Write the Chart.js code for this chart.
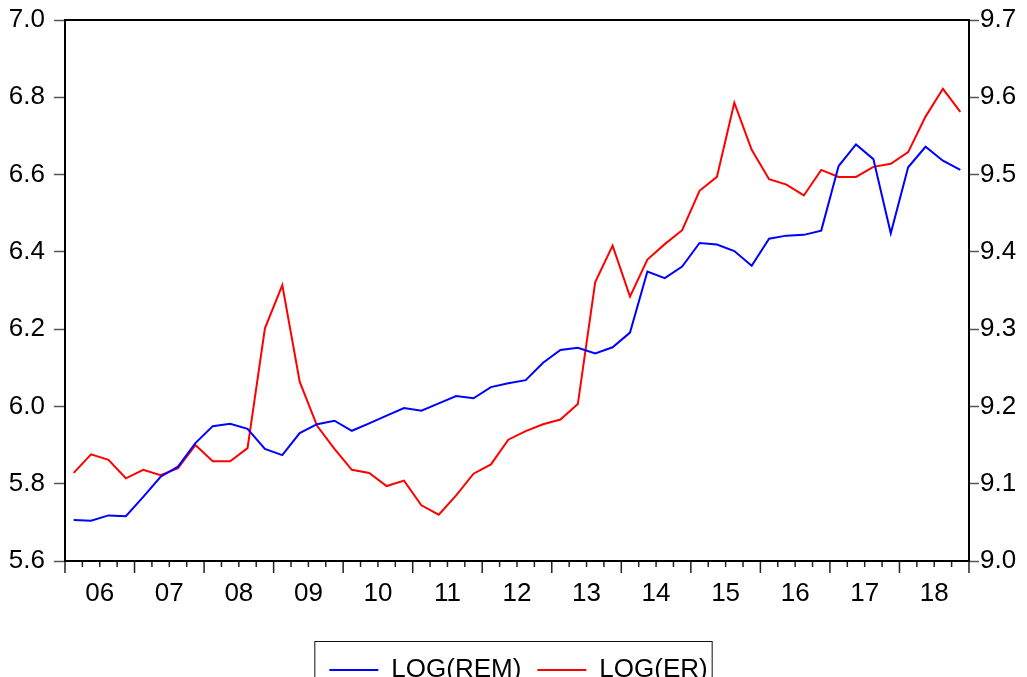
<!DOCTYPE html>
<html>
<head>
<meta charset="utf-8">
<title>LOG(REM) and LOG(ER)</title>
<script src="https://cdn.jsdelivr.net/npm/chart.js@4.4.1/dist/chart.umd.min.js"></script>
<style>
  html, body { margin: 0; padding: 0; background: #fff; }
  #wrap { width: 1027px; height: 677px; }
</style>
</head>
<body>
<div id="wrap"><canvas id="remErChart" width="1027" height="677"></canvas></div>
<script>
// quarterly sample 2006Q1 - 2018Q4
const years = ['06', '07', '08', '09', '10', '11', '12', '13', '14', '15', '16', '17', '18'];
const quarters = years.flatMap(y => ['Q1', 'Q2', 'Q3', 'Q4'].map(q => '20' + y + q));

// left axis
const logRem = [
  5.706, 5.704, 5.718, 5.716, 5.766, 5.818, 5.844, 5.905, 5.949, 5.955,
  5.942, 5.890, 5.874, 5.931, 5.954, 5.963, 5.937, 5.956, 5.976, 5.996,
  5.989, 6.008, 6.027, 6.021, 6.050, 6.060, 6.068, 6.113, 6.146, 6.152,
  6.137, 6.153, 6.191, 6.349, 6.332, 6.362, 6.423, 6.419, 6.402, 6.364,
  6.434, 6.442, 6.444, 6.455, 6.622, 6.678, 6.640, 6.448, 6.619, 6.672,
  6.636, 6.612
];

// right axis
const logEr = [
  9.114, 9.138, 9.131, 9.107, 9.118, 9.111, 9.120, 9.150, 9.129, 9.129,
  9.146, 9.301, 9.357, 9.232, 9.175, 9.145, 9.118, 9.114, 9.097, 9.104,
  9.072, 9.060, 9.085, 9.113, 9.125, 9.157, 9.168, 9.177, 9.183, 9.203,
  9.361, 9.408, 9.342, 9.390, 9.410, 9.428, 9.479, 9.497, 9.593, 9.532,
  9.494, 9.487, 9.473, 9.506, 9.497, 9.497, 9.510, 9.514, 9.529, 9.575,
  9.611, 9.581
];

Chart.defaults.font.family = '"Liberation Sans", Arial, Helvetica, sans-serif';
Chart.defaults.font.size = 26;
Chart.defaults.color = '#000';

// eviews-like frame, quarter ticks and boxed legend
const eviewsFrame = {
  id: 'eviewsFrame',
  afterLayout(chart) {
    // legend sits partly below the bottom edge in the original
    const lg = chart.legend;
    lg.top += 16;
    lg.bottom += 16;
    lg.left += 5;
    lg.right += 5;
  },
  afterDraw(chart) {
    const {ctx, chartArea: a, scales: {x}} = chart;
    ctx.save();

    const band = x.getPixelForValue(1) - x.getPixelForValue(0);
    ctx.strokeStyle = '#222';
    ctx.lineWidth = 1.5;
    ctx.beginPath();
    for (let k = 0; k <= quarters.length; k++) {
      const px = x.getPixelForValue(0) + (k - 0.5) * band;
      const len = k % 4 === 0 ? 12 : 6;
      ctx.moveTo(px, a.bottom);
      ctx.lineTo(px, a.bottom + len);
    }
    ctx.stroke();

    ctx.strokeStyle = '#000';
    ctx.lineWidth = 2;
    ctx.strokeRect(a.left, a.top, a.right - a.left, a.bottom - a.top);

    const lg = chart.legend;
    const boxes = lg.legendHitBoxes;
    if (boxes && boxes.length) {
      const first = boxes[0];
      const last = boxes[boxes.length - 1];
      ctx.lineWidth = 1;
      ctx.strokeStyle = '#111';
      ctx.strokeRect(first.left - 14.5, lg.top + 0.5, last.left + last.width - first.left + 19, 60);
    }
    ctx.restore();
  }
};

new Chart(document.getElementById('remErChart'), {
  type: 'line',
  data: {
    labels: quarters,
    datasets: [
      {
        label: 'LOG(REM)',
        data: logRem,
        yAxisID: 'y',
        borderColor: '#0000ff',
        backgroundColor: '#0000ff',
        borderWidth: 2,
        pointRadius: 0,
        tension: 0
      },
      {
        label: 'LOG(ER)',
        data: logEr,
        yAxisID: 'y1',
        borderColor: '#ff0000',
        backgroundColor: '#ff0000',
        borderWidth: 2,
        pointRadius: 0,
        tension: 0
      }
    ]
  },
  options: {
    responsive: false,
    animation: false,
    layout: { padding: { top: 20, left: 0, right: 0, bottom: 0 } },
    scales: {
      x: {
        offset: true,
        grid: { display: false, drawTicks: false },
        border: { display: false },
        ticks: {
          autoSkip: false,
          maxRotation: 0,
          padding: 17,
          labelOffset: 8.7,
          callback: (val, i) => (i % 4 === 1 ? quarters[i].slice(2, 4) : '')
        },
        afterFit: s => { s.height = 64; }
      },
      y: {
        position: 'left',
        min: 5.6,
        max: 7.0,
        grid: { drawOnChartArea: false, tickLength: 11, tickColor: '#555', tickWidth: 1.5 },
        border: { color: '#000', width: 2 },
        ticks: { stepSize: 0.2, padding: 9, callback: v => v.toFixed(1) },
        afterFit: s => { s.width = 65; s.paddingTop = 0; s.paddingBottom = 0; }
      },
      y1: {
        position: 'right',
        min: 9.0,
        max: 9.7,
        grid: { drawOnChartArea: false, tickLength: 10, tickColor: '#555', tickWidth: 1.5 },
        border: { color: '#000', width: 2 },
        ticks: { stepSize: 0.1, padding: 1, callback: v => v.toFixed(1) },
        afterFit: s => { s.width = 58; s.paddingTop = 0; s.paddingBottom = 0; }
      }
    },
    plugins: {
      legend: {
        position: 'bottom',
        labels: {
          boxWidth: 49,
          boxHeight: 2,
          padding: 16,
          generateLabels: chart =>
            Chart.defaults.plugins.legend.labels.generateLabels(chart).map(l => ({ ...l, lineWidth: 0 }))
        }
      },
      tooltip: { enabled: false }
    }
  },
  plugins: [eviewsFrame]
});
</script>
</body>
</html>
